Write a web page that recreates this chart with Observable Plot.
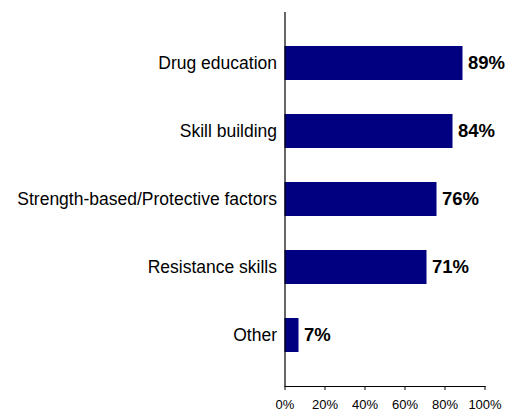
<!DOCTYPE html>
<html>
<head>
<meta charset="utf-8">
<script src="https://cdn.jsdelivr.net/npm/d3@7"></script>
<script src="https://cdn.jsdelivr.net/npm/@observablehq/plot@0.6"></script>
<style>
  html, body { margin: 0; padding: 0; background: #fff; }
</style>
</head>
<body>
<div id="chart"></div>
<script>
const categories = ["Drug education", "Skill building", "Strength-based/Protective factors", "Resistance skills", "Other"];
const values = [89, 84, 76, 71, 7];
const xTicks = [0, 20, 40, 60, 80, 100];

const data = categories.map((c, i) => ({category: c, value: values[i]}));

const chart = Plot.plot({
  width: 506,
  height: 412,
  marginLeft: 284.5,
  marginRight: 21.5,
  marginTop: 12,
  marginBottom: 26,
  style: {fontFamily: "'Liberation Sans', Arial, sans-serif", fontSize: "13px", color: "#000", background: "#fff"},
  x: {domain: [0, 100]},
  y: {domain: categories, padding: 0.5},
  marks: [
    Plot.barX(data, {x: "value", y: "category", fill: "#000080"}),
    Plot.text(data, {x: "value", y: "category", text: d => d.value + "%", textAnchor: "start", dx: 5, fontWeight: "bold", fontSize: 18.5, fill: "#000"}),
    Plot.axisX({ticks: xTicks, tickFormat: d => d + "%", tickSize: 4, tickPadding: 9, fontSize: 13, label: null, stroke: "#000"}),
    Plot.axisY({tickSize: 0, tickPadding: 8, fontSize: 17.5, label: null, fill: "#000"}),
    Plot.ruleX([0], {stroke: "#000", strokeWidth: 1.2}),
    Plot.frame({anchor: "bottom", stroke: "#000", strokeWidth: 1.2})
  ]
});
document.getElementById("chart").appendChild(chart);
</script>
</body>
</html>
